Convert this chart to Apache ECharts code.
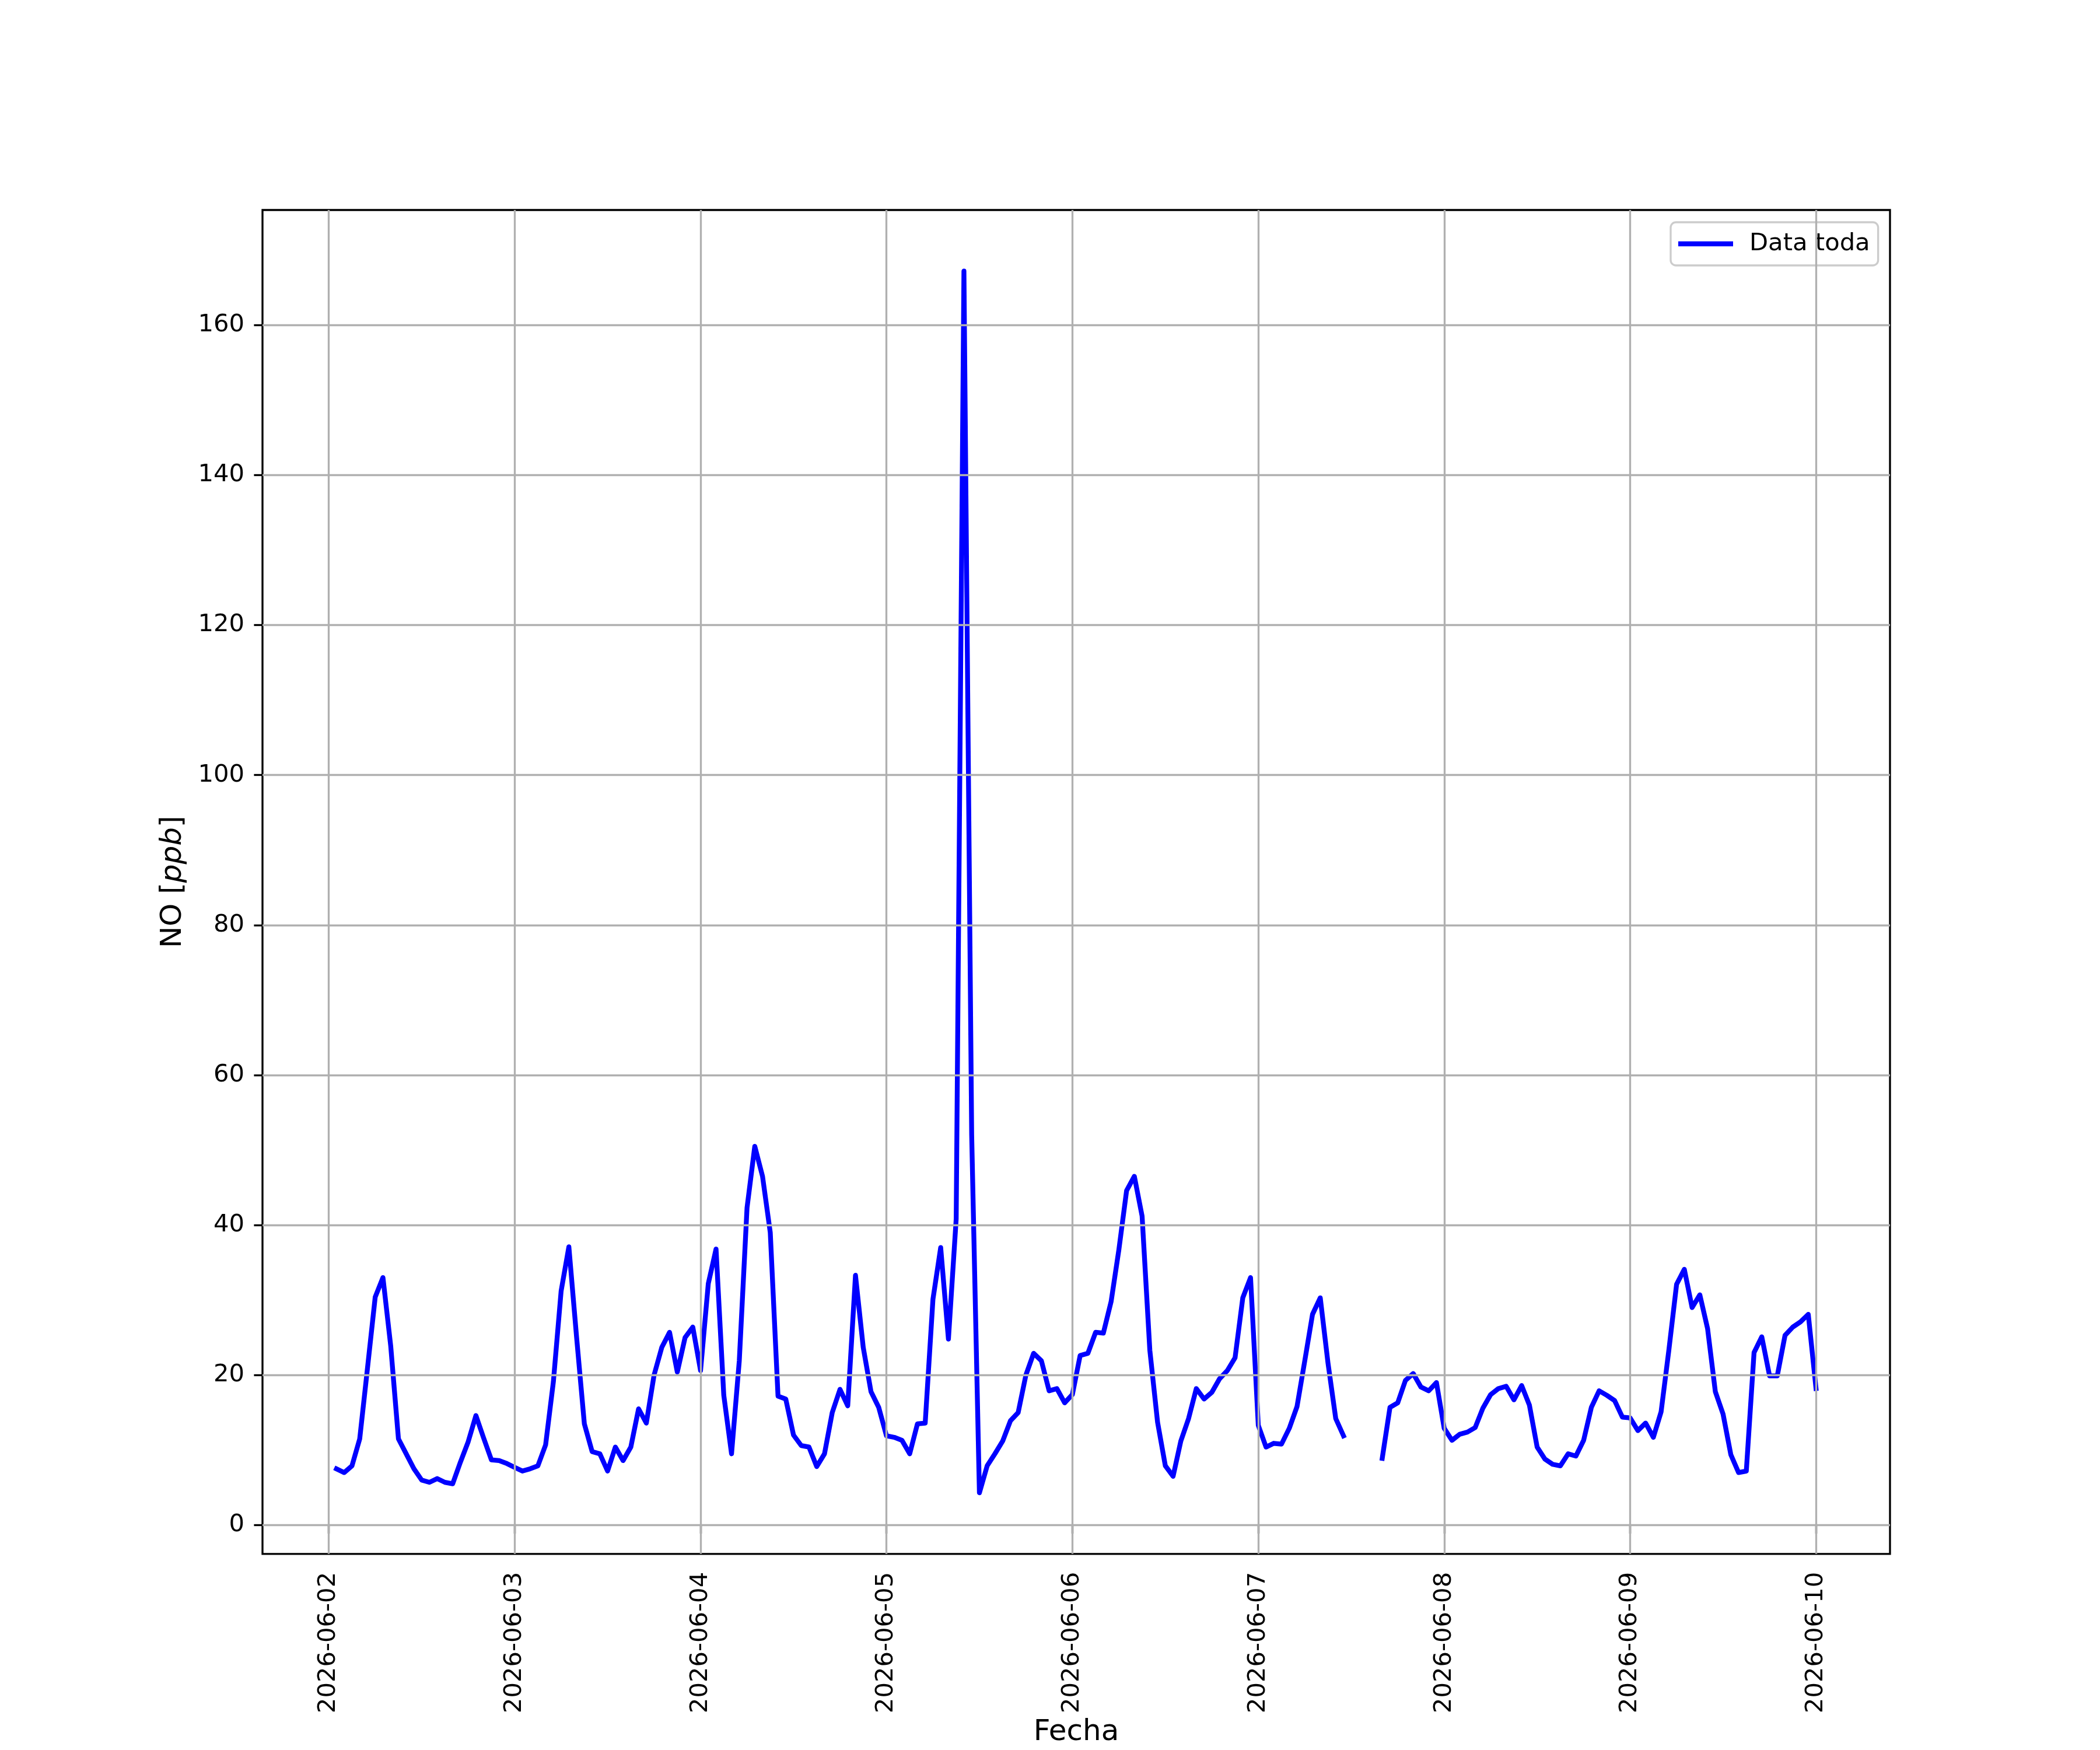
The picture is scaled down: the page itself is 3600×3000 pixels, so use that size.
<!DOCTYPE html>
<html>
<head>
<meta charset="utf-8">
<script src="https://cdn.jsdelivr.net/npm/echarts@6/dist/echarts.min.js"></script>
<style>
html,body{margin:0;padding:0;background:#fff;}
#chart{width:3600px;height:3000px;}
</style>
</head>
<body>
<div id="chart"></div>
<script>
// ---- Data (hourly NO, ppb) ----
const startTime = '2026-06-02T01:00:00Z';   // first sample
const no_0602 = [7.5, 7.0, 7.9, 11.5, 20.9, 30.4, 33.0, 23.9, 11.5, 9.5, 7.5, 6.0, 5.7, 6.2, 5.7, 5.5, 8.4, 11.1, 14.6, 11.6, 8.7, 8.6, 8.2];
const no_0603 = [7.7, 7.2, 7.5, 7.9, 10.7, 19.1, 31.2, 37.1, 25.0, 13.5, 9.8, 9.5, 7.2, 10.4, 8.6, 10.4, 15.5, 13.6, 20.0, 23.7, 25.7, 20.4, 25.0, 26.4];
const no_0604 = [20.6, 32.2, 36.8, 17.3, 9.5, 21.9, 42.3, 50.5, 46.5, 39.0, 17.2, 16.8, 12.0, 10.6, 10.4, 7.8, 9.5, 15.0, 18.1, 15.9, 33.3, 23.7, 17.8, 15.7];
const no_0605 = [11.9, 11.7, 11.3, 9.5, 13.5, 13.6, 30.1, 37.0, 24.8, 40.8, 167.2, 52.0, 4.3, 7.9, 9.5, 11.2, 13.9, 15.0, 20.0, 22.9, 21.9, 17.9, 18.2, 16.3];
const no_0606 = [17.4, 22.6, 22.9, 25.7, 25.6, 29.8, 36.7, 44.6, 46.5, 41.2, 23.3, 13.7, 7.9, 6.5, 11.2, 14.2, 18.2, 16.8, 17.7, 19.5, 20.6, 22.3, 30.3, 33.0];
const no_0607 = [13.3, 10.4, 10.9, 10.8, 12.9, 15.8, 21.9, 28.1, 30.3, 21.6, 14.2, 11.9, null, null, null, null, 8.9, 15.7, 16.3, 19.3, 20.2, 18.4, 17.9, 19.0];
const no_0608 = [12.9, 11.3, 12.1, 12.4, 13.0, 15.6, 17.4, 18.2, 18.5, 16.7, 18.6, 16.0, 10.4, 8.8, 8.1, 7.9, 9.5, 9.2, 11.3, 15.7, 17.9, 17.3, 16.6, 14.4];
const no_0609 = [14.3, 12.6, 13.6, 11.7, 15.1, 23.3, 32.1, 34.1, 29.0, 30.7, 26.2, 17.8, 14.8, 9.4, 7.0, 7.2, 23.0, 25.1, 19.9, 19.9, 25.3, 26.4, 27.1, 28.1];
const no_0610 = [18.2];

const dateTicks = ['2026-06-02','2026-06-03','2026-06-04','2026-06-05','2026-06-06','2026-06-07','2026-06-08','2026-06-09','2026-06-10'];
const yTicks = [0, 20, 40, 60, 80, 100, 120, 140, 160];
const seriesName = 'Data toda';
const xName = 'Fecha';

// ---- Build ----
const values = [].concat(no_0602, no_0603, no_0604, no_0605, no_0606, no_0607, no_0608, no_0609, no_0610);
const HOUR = 3600 * 1000;
const t0 = Date.parse(startTime);
const seriesData = values.map((v, i) => [t0 + i * HOUR, v]);
const tickTimes = dateTicks.map(d => Date.parse(d + 'T00:00:00Z'));

// matplotlib-like 5% margins
const tFirst = seriesData[0][0], tLast = seriesData[seriesData.length - 1][0];
const nums = values.filter(v => v !== null);
const vMin = Math.min(...nums), vMax = Math.max(...nums);
const xPad = (tLast - tFirst) * 0.05, yPad = (vMax - vMin) * 0.05;

const FONT = 'DejaVu Sans';
const TICK_FS = 41.7;
const LW = 3.33;
const gridColor = '#b0b0b0';

const chart = echarts.init(document.getElementById('chart'), null, {renderer: 'canvas'});
chart.setOption({
  animation: false,
  backgroundColor: '#ffffff',
  textStyle: {fontFamily: FONT},
  grid: {
    left: 450, right: 360, top: 360, bottom: 330,
    show: true, borderColor: '#000', borderWidth: LW, backgroundColor: 'transparent'
  },
  legend: {
    data: [seriesName],
    left: 2864, top: 381,
    orient: 'horizontal',
    icon: 'rect',
    itemWidth: 94, itemHeight: 8.3,
    padding: [16, 14, 16, 13],
    borderColor: '#cccccc', borderWidth: LW, borderRadius: 9,
    backgroundColor: 'rgba(255,255,255,0.8)',
    textStyle: {fontFamily: FONT, fontSize: TICK_FS, color: '#000', padding: [0, 0, 0, 23]}
  },
  xAxis: {
    type: 'value',
    min: tFirst - xPad,
    max: tLast + xPad,
    scale: true,
    name: xName,
    nameLocation: 'middle',
    nameGap: 281,
    nameTextStyle: {fontFamily: FONT, fontSize: 50, color: '#000'},
    axisLine: {show: false},
    axisTick: {show: true, inside: false, length: 14.6, lineStyle: {color: '#000', width: LW}, customValues: tickTimes},
    axisLabel: {
      show: true, rotate: 90, margin: 31, fontFamily: FONT, fontSize: TICK_FS, color: '#000',
      customValues: tickTimes,
      formatter: (v) => new Date(v).toISOString().slice(0, 10),
      hideOverlap: false
    },
    splitLine: {show: false}
  },
  yAxis: {
    type: 'value',
    min: vMin - yPad,
    max: vMax + yPad,
    name: '{n|NO [}{i|ppb}{n|]}',
    nameLocation: 'middle',
    nameRotate: 90,
    nameGap: 128,
    nameTextStyle: {
      fontFamily: FONT, fontSize: 50, color: '#000',
      rich: {
        n: {fontFamily: FONT, fontSize: 50, color: '#000'},
        i: {fontFamily: FONT, fontSize: 50, color: '#000', fontStyle: 'italic'}
      }
    },
    axisLine: {show: false},
    axisTick: {show: true, inside: false, length: 14.6, lineStyle: {color: '#000', width: LW}, customValues: yTicks},
    axisLabel: {
      show: true, margin: 31, fontFamily: FONT, fontSize: TICK_FS, color: '#000',
      customValues: yTicks
    },
    splitLine: {show: false}
  },
  series: [
    {
      name: '_grid',
      type: 'line',
      data: seriesData,
      showSymbol: false,
      silent: true,
      z: 1,
      lineStyle: {opacity: 0, width: 0},
      markLine: {
        silent: true,
        animation: false,
        symbol: ['none', 'none'],
        label: {show: false},
        lineStyle: {color: gridColor, width: LW, type: 'solid'},
        emphasis: {disabled: true},
        data: tickTimes.map(t => ({xAxis: t})).concat(yTicks.map(y => ({yAxis: y})))
      }
    },
    {
      name: seriesName,
      type: 'line',
      data: seriesData,
      z: 3,
      showSymbol: false,
      connectNulls: false,
      color: '#0000ff',
      lineStyle: {color: '#0000ff', width: 8.3, cap: 'square', join: 'round'},
      emphasis: {disabled: true}
    }
  ]
});
</script>
</body>
</html>
